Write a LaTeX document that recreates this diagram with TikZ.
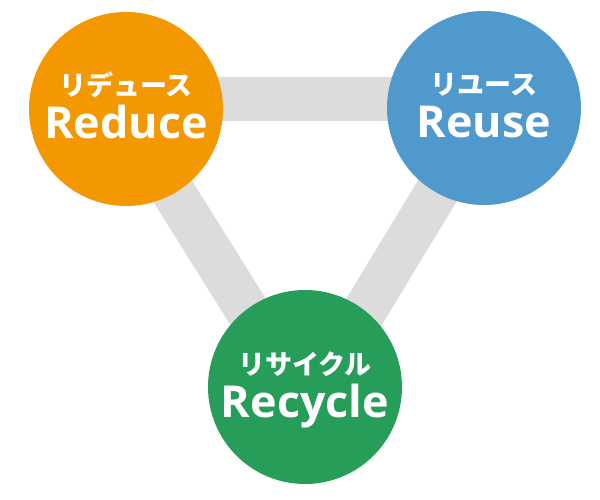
\documentclass[tikz,border=0pt]{standalone}
\usepackage{fontspec}
\usetikzlibrary{calc, backgrounds}
\newfontfamily\jpfont{Noto Sans CJK JP}
\newfontfamily\enfont[FakeStretch=1.02]{Open Sans}

\definecolor{reduceorange}{HTML}{F39800}
\definecolor{reuseblue}{HTML}{4F99CC}
\definecolor{recyclegreen}{HTML}{279D5A}
\definecolor{bandgray}{HTML}{DCDCDC}

\begin{document}
\begin{tikzpicture}[x=1pt, y=-1pt]
% --- Global Styles ---
\tikzstyle{eco} = [circle, minimum size=194pt, inner sep=0pt, draw=none]
\tikzstyle{jplabel} = [anchor=base, text=white, inner sep=0pt, font=\jpfont\bfseries\fontsize{27}{30}\selectfont]
\tikzstyle{enlabel} = [anchor=base, text=white, inner sep=0pt, font=\enfont\bfseries\fontsize{44}{48}\selectfont]
\tikzstyle{band} = [bandgray, line width=44pt, line join=round]

\useasboundingbox (0,0) rectangle (600,500);

% ==========================================
% The three circles
% ==========================================
\node[eco, fill=reduceorange] (reduce) at (126,109) {};
\node[eco, fill=reuseblue] (reuse) at (484,108) {};
\node[eco, fill=recyclegreen] (recycle) at (305,387) {};

% Gray triangle behind them
\begin{scope}[on background layer]
\draw[band] ($(reduce)+(-11,-10)$) -- ($(reuse)+(9,-9)$) -- ($(recycle)+(2,19)$) -- cycle;
\end{scope}

% ==========================================
% Labels
% ==========================================
\node[jplabel] (reducejp) at ([yshift=13pt]reduce.center) {リデュース};
\node[enlabel] (reduceen) at ([yshift=-30pt]reduce.center) {Reduce};

\node[jplabel] (reusejp) at ([yshift=13pt]reuse.center) {リユース};
\node[enlabel] (reuseen) at ([yshift=-30pt]reuse.center) {Reuse};

\node[jplabel] (recyclejp) at ([yshift=13pt]recycle.center) {リサイクル};
\node[enlabel] (recycleen) at ([yshift=-30pt]recycle.center) {Recycle};

\end{tikzpicture}
\end{document}
